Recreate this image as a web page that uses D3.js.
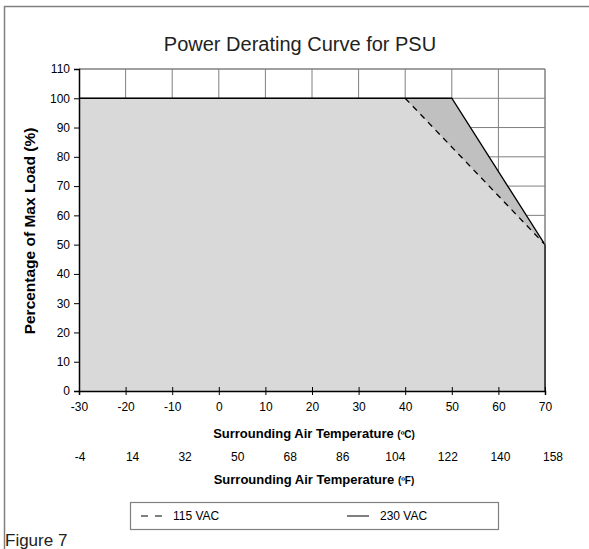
<!DOCTYPE html>
<html><head><meta charset="utf-8">
<script src="https://cdn.jsdelivr.net/npm/d3@7"></script>
<style>body{margin:0;background:#fff}svg{display:block;font-family:"Liberation Sans",Arial,sans-serif}</style>
</head><body>
<svg id="c" width="589" height="549"></svg>
<script>
const xTicksC = [-30,-20,-10,0,10,20,30,40,50,60,70];
const xTicksF = [-4,14,32,50,68,86,104,122,140,158];
const yTicks = [0,10,20,30,40,50,60,70,80,90,100,110];
const curve115 = [[-30,100],[40,100],[70,50],[70,0]];
const curve230 = [[-30,100],[50,100],[70,50],[70,0]];
const seriesNames = ["115 VAC","230 VAC"];

const FONT = "Liberation Sans, Arial, sans-serif";
const svg = d3.select("#c");
const x = d3.scaleLinear().domain([-30,70]).range([79,545]);
const y = d3.scaleLinear().domain([0,110]).range([391,69]);
const xf = d3.scalePoint().domain(xTicksF).range([80,553]);

// outer frame
svg.append("path").attr("d","M4.5,549 V6.5 H589").attr("fill","none").attr("stroke","#808080").attr("stroke-width",1.5);

svg.append("text").attr("x",300).attr("y",51).attr("text-anchor","middle").attr("font-size",20).attr("fill","#222").text("Power Derating Curve for PSU");

// grid
const g = svg.append("g");
g.selectAll("line.vg").data(xTicksC.slice(1)).join("line").attr("class","vg").attr("x1",d=>x(d)).attr("x2",d=>x(d)).attr("y1",y(110)).attr("y2",y(0)).attr("stroke","#808080").attr("stroke-width",1);
g.selectAll("line.hg").data(yTicks.slice(1)).join("line").attr("class","hg").attr("x1",x(-30)).attr("x2",x(70)).attr("y1",d=>y(d)).attr("y2",d=>y(d)).attr("stroke","#808080").attr("stroke-width",1);

const line = d3.line().x(d=>x(d[0])).y(d=>y(d[1]));
// fills
svg.append("path").attr("d", line(curve230.concat([[-30,0]]))+"Z").attr("fill","#c0c0c0");
svg.append("path").attr("d", line(curve115.concat([[-30,0]]))+"Z").attr("fill","#d9d9d9");

// lines
svg.append("path").attr("d", line(curve230)).attr("fill","none").attr("stroke","#000").attr("stroke-width",1.3);
svg.append("path").attr("d", line(curve115.slice(1,3))).attr("fill","none").attr("stroke","#000").attr("stroke-width",1.3).attr("stroke-dasharray","6,5");

// top/right plot frame (gray)
svg.append("path").attr("d",`M${x(-30)},${y(110)} H${x(70)} V${y(50)}`).attr("fill","none").attr("stroke","#808080");

// axes
const yAxis = d3.axisLeft(y).tickValues(yTicks).tickSize(5).tickPadding(4).tickFormat(d=>String(d));
const ya = svg.append("g").attr("transform",`translate(${x(-30)},0)`).call(yAxis);
ya.attr("font-family",FONT).attr("font-size",12);
ya.select(".domain").attr("stroke","#000").attr("stroke-width",1.5);
ya.selectAll(".tick line").attr("stroke","#000");
ya.selectAll("text").attr("fill","#000");

const xAxis = d3.axisBottom(x).tickValues(xTicksC).tickSize(4).tickPadding(7).tickFormat(d=>String(d));
const xa = svg.append("g").attr("transform",`translate(0,${y(0)})`).call(xAxis);
xa.attr("font-family",FONT).attr("font-size",12);
xa.select(".domain").attr("stroke","#000").attr("stroke-width",1.5);
xa.selectAll(".tick line").attr("y1",-4).attr("stroke","#000");
xa.selectAll("text").attr("fill","#000");

// F labels
svg.selectAll("text.fl").data(xTicksF).join("text").attr("class","fl").attr("x",d=>xf(d)).attr("y",461).attr("text-anchor","middle").attr("font-size",12).text(d=>String(d));

const t1 = svg.append("text").attr("x",314).attr("y",438).attr("text-anchor","middle").attr("font-size",13).attr("font-weight","bold");
t1.append("tspan").text("Surrounding Air Temperature ");
t1.append("tspan").attr("font-size",10).text("(\u00BAC)");
const t2 = svg.append("text").attr("x",314).attr("y",484).attr("text-anchor","middle").attr("font-size",13).attr("font-weight","bold");
t2.append("tspan").text("Surrounding Air Temperature ");
t2.append("tspan").attr("font-size",10).text("(\u00BAF)");

svg.append("text").attr("transform","translate(35,231) rotate(-90)").attr("text-anchor","middle").attr("font-size",15.5).attr("font-weight","bold").text("Percentage of Max Load (%)");

// legend
svg.append("rect").attr("x",130.5).attr("y",502.5).attr("width",368).attr("height",27).attr("fill","#fff").attr("stroke","#808080").attr("stroke-width",1.2);
svg.append("line").attr("x1",141).attr("x2",162).attr("y1",516).attr("y2",516).attr("stroke","#000").attr("stroke-dasharray","7,7");
svg.append("text").attr("x",173).attr("y",520).attr("font-size",12).text(seriesNames[0]);
svg.append("line").attr("x1",347).attr("x2",369).attr("y1",516).attr("y2",516).attr("stroke","#000");
svg.append("text").attr("x",380).attr("y",520).attr("font-size",12).text(seriesNames[1]);

svg.append("text").attr("x",5).attr("y",546).attr("font-size",17).attr("fill","#222").text("Figure 7");
</script>
</body></html>
